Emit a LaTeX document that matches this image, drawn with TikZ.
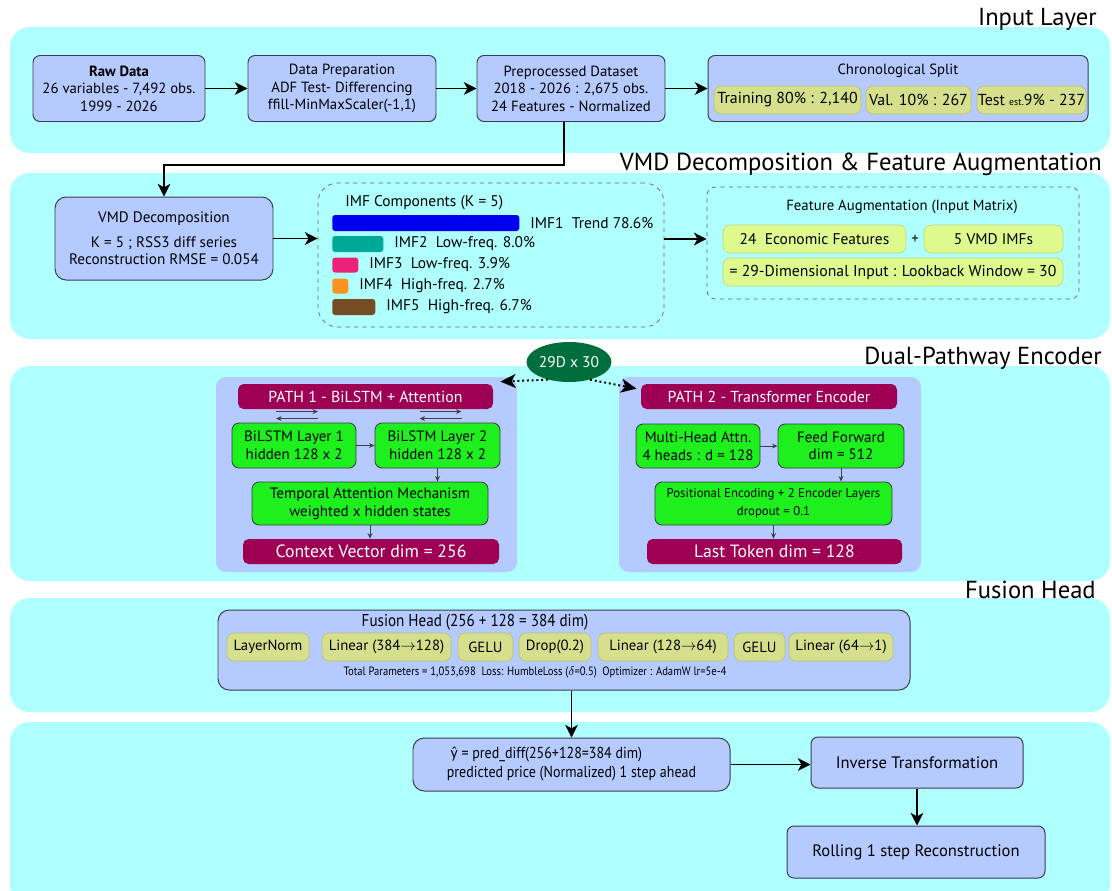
\documentclass[tikz,border=0pt]{standalone}
\usepackage{fontspec}
\setmainfont{PT Sans}
\newfontfamily\estrecha[FakeStretch=0.88]{PT Sans}
\newfontfamily\latina[FakeStretch=0.88]{Lato}
\usetikzlibrary{arrows.meta,shapes.geometric,calc}

\definecolor{cian}{RGB}{176,255,255}
\definecolor{azul}{RGB}{181,203,255}
\definecolor{borde}{RGB}{60,60,75}
\definecolor{oliva}{RGB}{214,224,140}
\definecolor{lima}{RGB}{222,250,142}
\definecolor{verde}{RGB}{30,240,30}
\definecolor{vino}{RGB}{158,0,84}
\definecolor{pino}{RGB}{0,110,60}
\definecolor{imfa}{RGB}{0,0,240}
\definecolor{imfb}{RGB}{0,168,152}
\definecolor{imfc}{RGB}{236,34,120}
\definecolor{imfd}{RGB}{247,147,30}
\definecolor{imfe}{RGB}{117,76,36}

\begin{document}
\begin{tikzpicture}[
    x=0.025cm,y=-0.025cm,
    font=\fontsize{10.5}{12.5}\selectfont,
    tam/.style 2 args={minimum width=#1*0.025cm,minimum height=#2*0.025cm},
    banda/.style={fill=cian,rounded corners=14pt},
    titulo/.style={font=\fontsize{17.5}{20}\selectfont,anchor=east,inner sep=0pt},
    caja/.style={draw=borde,fill=azul,line width=0.7pt,rounded corners=5pt,
                 align=center,inner sep=0pt},
    cajaoliva/.style={draw=oliva!85!black,fill=oliva,line width=0.4pt,
                      rounded corners=5pt,inner sep=0pt},
    cajalima/.style={draw=lima!85!black,fill=lima,line width=0.4pt,
                     rounded corners=5pt,inner sep=0pt},
    cajaverde/.style={draw=borde,fill=verde,line width=0.6pt,rounded corners=5pt,
                      align=center,inner sep=0pt,font=\fontsize{10.7}{12.5}\selectfont},
    cabecera/.style={fill=vino,text=white,rounded corners=4pt,inner sep=0pt,
                     font=\fontsize{11.3}{12}\selectfont},
    marco/.style={fill=azul,rounded corners=7pt},
    punteado/.style={draw=black!60,dashed,line width=0.5pt,rounded corners=14pt},
    barra/.style={rounded corners=2pt,inner sep=0pt,anchor=west},
    etiq/.style={anchor=west,inner sep=0pt,xshift=7.5pt,font=\fontsize{11}{12}\selectfont},
    flecha/.style={line width=1.4pt,-{Stealth[length=9pt,width=9pt,inset=2.5pt]}},
    flechita/.style={line width=0.6pt,draw=black!75,-{Stealth[length=4pt,width=3.5pt]}},
    flechapunto/.style={line width=1.4pt,dotted,-{Stealth[length=11pt,width=10pt,inset=3pt]}}]

  \useasboundingbox (0,0) rectangle (1112,890);

  \fill[banda] (10,27)  rectangle (1110,153);
  \fill[banda] (10,173) rectangle (1110,339);
  \fill[banda] (10,366) rectangle (1110,581);
  \fill[banda] (10,598) rectangle (1110,712);
  \fill[banda] (10,722) rectangle (1110,905);

  \node[titulo] (tin)   at (1097,19)  {Input Layer};
  \node[titulo] (tvmd)  at (1102,164) {VMD Decomposition \& Feature Augmentation};
  \node[titulo] (tdual) at (1102,358) {Dual-Pathway Encoder};
  \node[titulo] (tfus)  at (1096,590) {Fusion Head};

  % input layer
  \node[caja,tam={172}{66}] (raw)  at (119,88.5)
    {\textbf{Raw Data}\\26 variables - 7,492 obs.\\1999 - 2026};
  \node[caja,tam={188}{66}] (prep) at (342,88.5)
    {Data Preparation\\ADF Test- Differencing\\ffill-MinMaxScaler(-1,1)};
  \node[caja,tam={188}{66}] (proc) at (571,88.5)
    {Preprocessed Dataset\\2018 - 2026 : 2,675 obs.\\24 Features - Normalized};
  \node[caja,tam={380}{66}] (split) at (898,88.5) {};
  \node (splitt) at (898,71) {Chronological Split};
  \node[cajaoliva,tam={147}{28},font=\fontsize{11.3}{12}\selectfont] (train) at (787.5,100)
    {Training 80\% : 2,140};
  \node[cajaoliva,tam={105}{28},font=\fontsize{11.3}{12}\selectfont] (val) at (918.5,100)
    {Val. 10\% : 267};
  \node[cajaoliva,tam={109}{28},font=\fontsize{11.3}{12}\selectfont] (test) at (1031.5,100)
    {Test {\fontsize{7}{7}\selectfont est.}9\% - 237};

  \draw[flecha] (raw)  -- (prep);
  \draw[flecha] (prep) -- (proc);
  \draw[flecha] (proc) -- (split);

  % vmd
  \node[caja,tam={218}{83},rounded corners=8pt,font=\fontsize{10.8}{12.5}\selectfont] (vmd)
    at (164,238.5)
    {VMD Decomposition\\[5pt]K = 5 ; RSS3 diff series\\Reconstruction RMSE = 0.054};
  \coordinate (codo) at (0,165);
  \draw[flecha] ([xshift=-5pt]proc.south) -- ([xshift=-5pt]proc.south |- codo) -| (vmd.north);

  \node[punteado,tam={346}{144}] (imf) at (491,255) {};
  \node[anchor=west,inner sep=0pt,font=\fontsize{11}{12}\selectfont] (imft) at (345,203)
    {IMF Components (K = 5)};
  \node[barra,fill=imfa,tam={187}{16}] (b1) at (332,223) {};
  \node[barra,fill=imfb,tam={51}{16}]  (b2) at (332,244) {};
  \node[barra,fill=imfc,tam={26}{15}]  (b3) at (332,265) {};
  \node[barra,fill=imfd,tam={16}{15}]  (b4) at (332,286) {};
  \node[barra,fill=imfe,tam={43}{16}]  (b5) at (332,307) {};
  \node[etiq] (l1) at (b1.east) {IMF1~~Trend 78.6\%};
  \node[etiq] (l2) at (b2.east) {IMF2~~Low-freq. 8.0\%};
  \node[etiq] (l3) at (b3.east) {IMF3~~Low-freq. 3.9\%};
  \node[etiq] (l4) at (b4.east) {IMF4~~High-freq. 2.7\%};
  \node[etiq] (l5) at (b5.east) {IMF5~~High-freq. 6.7\%};

  \node[punteado,tam={372}{112},rounded corners=6pt] (aug) at (893,243) {};
  \node (augt) at (902,207) {Feature Augmentation (Input Matrix)};
  \node[cajalima,tam={183}{28},font=\fontsize{11}{12}\selectfont] (econ) at (814.5,239)
    {24~~Economic Features};
  \node (mas) at (915,239) {+};
  \node[cajalima,tam={139}{28},font=\fontsize{11}{12}\selectfont] (vimf) at (993.5,239)
    {5 VMD IMFs};
  \node[cajalima,tam={340}{28},font=\fontsize{11.2}{12}\selectfont] (entrada) at (893,272)
    {= 29-Dimensional Input : Lookback Window = 30};

  \draw[flecha] (vmd.east) -- (vmd.east -| imf.west);
  \draw[flecha] (imf.east |- econ) -- (aug.west |- econ);

  % dual pathway
  \node[marco,tam={301}{195}] (p1) at (366.5,474.5) {};
  \node[marco,tam={302}{195}] (p2) at (770,474.5) {};

  \node[ellipse,fill=pino,text=white,tam={78}{40},inner sep=0pt,
        font=\fontsize{11}{12}\selectfont] (ell) at (569,362) {29D x 30};

  \node[cabecera,tam={255}{25}] (h1) at (365.5,396.5) {PATH 1 - BiLSTM + Attention};
  \node[cajaverde,tam={124}{45}] (bl1) at (294,445.5) {BiLSTM Layer 1\\hidden 128 x 2};
  \node[cajaverde,tam={125}{45}] (bl2) at (437.5,445.5) {BiLSTM Layer 2\\hidden 128 x 2};
  \node[cajaverde,tam={236}{43}] (ate) at (370,503.5)
    {Temporal Attention Mechanism\\weighted x hidden states};
  \node[cabecera,tam={256}{25},font=\fontsize{12.6}{13}\selectfont] (ctx) at (371,551.5)
    {Context Vector dim = 256};

  \node[cabecera,tam={256}{25}] (h2) at (769,396.5) {PATH 2 - Transformer Encoder};
  \node[cajaverde,tam={124}{44}] (mha) at (698,446) {Multi-Head Attn.\\4 heads : d = 128};
  \node[cajaverde,tam={126}{44}] (ffw) at (841,446) {Feed Forward\\dim = 512};
  \node[cajaverde,tam={237}{43},font=\fontsize{9.1}{13}\selectfont] (pos) at (773.5,503.5)
    {Positional Encoding + 2 Encoder Layers\\dropout = 0.1};
  \node[cabecera,tam={255}{25},font=\fontsize{12.6}{13}\selectfont] (last) at (774.5,551.5)
    {Last Token dim = 128};

  \foreach \n in {bl1,bl2} {
    \draw[flechita] ($(\n.north)+(-18,-11)$) -- ++(42,0);
    \draw[flechita] ($(\n.north)+(24,-4)$) -- ++(-42,0);
  }
  \draw[flechita] (bl1) -- (bl2);
  \draw[flechita] (bl2.south) -- (bl2.south |- ate.north);
  \draw[flechita] (ate.south) -- (ate.south |- ctx.north);
  \draw[flechita] (mha) -- (ffw);
  \draw[flechita] (ffw.south) -- (ffw.south |- pos.north);
  \draw[flechita] (pos.south) -- (pos.south |- last.north);

  \draw[flechapunto] (ell.220) -- ([shift={(5pt,1.5pt)}]h1.north east);
  \draw[flechapunto] (ell.-40) -- ([shift={(-3pt,-3.5pt)}]h2.north west);

  % fusion head
  \node[caja,tam={692}{80},rounded corners=8pt] (fus) at (564,650) {};
  \node[font=\estrecha\fontsize{12.2}{13}\selectfont] (fust) at (475,622)
    {Fusion Head (256 + 128 = 384 dim)};
  \node[cajaoliva,tam={82}{28}]  (c1) at (268,647)   {LayerNorm};
  \node[cajaoliva,tam={129}{28}] (c2) at (386.5,647) {Linear (384$\rightarrow$128)};
  \node[cajaoliva,tam={55}{28}]  (c3) at (485.5,647) {GELU};
  \node[cajaoliva,tam={72}{28}]  (c4) at (555,647)   {Drop(0.2)};
  \node[cajaoliva,tam={130}{28}] (c5) at (663,647)   {Linear (128$\rightarrow$64)};
  \node[cajaoliva,tam={51}{28}]  (c6) at (759.5,647) {GELU};
  \node[cajaoliva,tam={104}{28}] (c7) at (841,647)   {Linear (64$\rightarrow$1)};
  \node[font=\estrecha\fontsize{8.6}{10}\selectfont] (par) at (535,672)
    {Total Parameters = 1,053,698~~Loss: HumbleLoss ($\delta$=0.5)~~Optimizer : AdamW lr=5e-4};

  % output
  \node[caja,tam={317}{53},rounded corners=8pt,align=left,
        font=\estrecha\fontsize{11.3}{13.5}\selectfont] (pred) at (571.5,764.5)
    {~{\latina ŷ} = pred\_diff(256+128=384 dim)\\predicted price (Normalized) 1 step ahead};
  \node[caja,tam={212}{51},font=\fontsize{11.8}{13}\selectfont] (inv) at (917,762.5)
    {Inverse Transformation};
  \node[caja,tam={258}{52},font=\fontsize{11.8}{13}\selectfont] (roll) at (916,852)
    {Rolling 1 step Reconstruction};

  \draw[flecha] (fus.south -| pred.north) -- (pred.north);
  \draw[flecha] (pred.east) -- (pred.east -| inv.west);
  \draw[flecha] (inv.south) -- (inv.south |- roll.north);

\end{tikzpicture}
\end{document}
